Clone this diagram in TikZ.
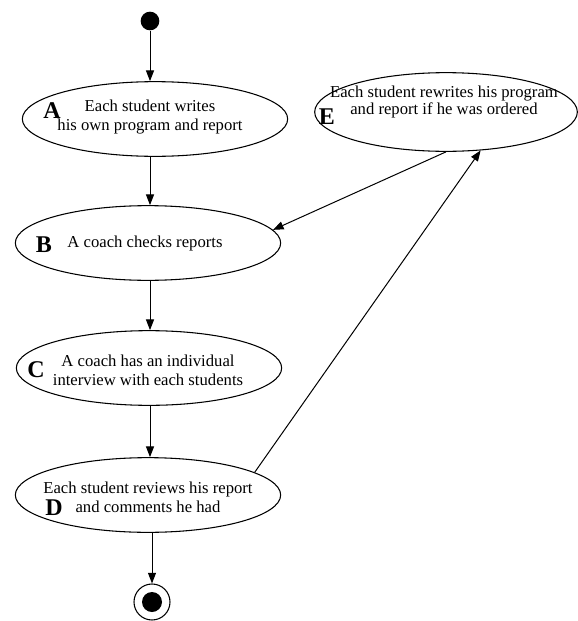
\documentclass[tikz,border=0pt]{standalone}
\usepackage{fontspec}
\setmainfont{Liberation Serif}
\usepackage{xcolor}
\usepackage{tikz}
\usetikzlibrary{positioning, arrows.meta, shapes.geometric}

\begin{document}
\begin{tikzpicture}[x=0.75pt, y=-0.75pt,
    activity/.style={draw, ellipse, line width=0.8pt, inner sep=0pt,
                     minimum width=199pt, minimum height=56pt},
    says/.style={align=center, inner sep=0pt,
                 font=\fontsize{12.5}{14.5}\selectfont},
    tag/.style={inner sep=0pt, font=\fontsize{18}{18}\selectfont\bfseries},
    flow/.style={-{Triangle[length=8pt, width=6pt]}, line width=0.75pt}]
    \useasboundingbox (0,0) rectangle (578,621);

    % start and end
    \node[circle, fill, inner sep=0pt, minimum size=14pt] (start) at (150,21) {};
    \node[circle, draw, line width=0.8pt, inner sep=0pt, minimum size=27pt,
          path picture={\fill (path picture bounding box.center) circle (7.5pt);}]
          (stop) at (152,602) {};

    % activities
    \node[activity] (A) at (155,119) {};
    \node[activity] (B) at (148,243) {};
    \node[activity] (C) at (149,368) {};
    \node[activity] (D) at (148,495) {};
    \node[activity, minimum width=197pt, minimum height=59pt] (E) at (446,112) {};

    \node[says] (A-txt) at (150,117) {Each student writes\\his own program and report};
    \node[says] (B-txt) at (145,243) {A coach checks reports};
    \node[says] (C-txt) at (148,370) {A coach has an individual\\interview with each students};
    \node[says] (D-txt) at (148,497) {Each student reviews his report\\and comments he had};
    \node[says, font=\fontsize{12.5}{13}\selectfont] (E-txt) at (444,102)
          {Each student rewrites his program\\and report if he was ordered};

    \node[tag] (A-tag) at (52,111) {A};
    \node[tag] (B-tag) at (44,245) {B};
    \node[tag] (C-tag) at (36,370) {C};
    \node[tag] (D-tag) at (54,508) {D};
    \node[tag] (E-tag) at (327,117) {E};

    % flows
    \draw[flow] (start) -- (start |- A.north);
    \draw[flow] (A.south -| start) -- (B.north -| start);
    \draw[flow] (B.south -| start) -- (C.north -| start);
    \draw[flow] (C.south -| start) -- (D.north -| start);
    \draw[flow] (D.south -| stop) -- (stop);
    \draw[flow] (E.south) -- (B.6);
    \draw[flow] (D.12) -- (E.-48);
  \end{tikzpicture}
\end{document}
